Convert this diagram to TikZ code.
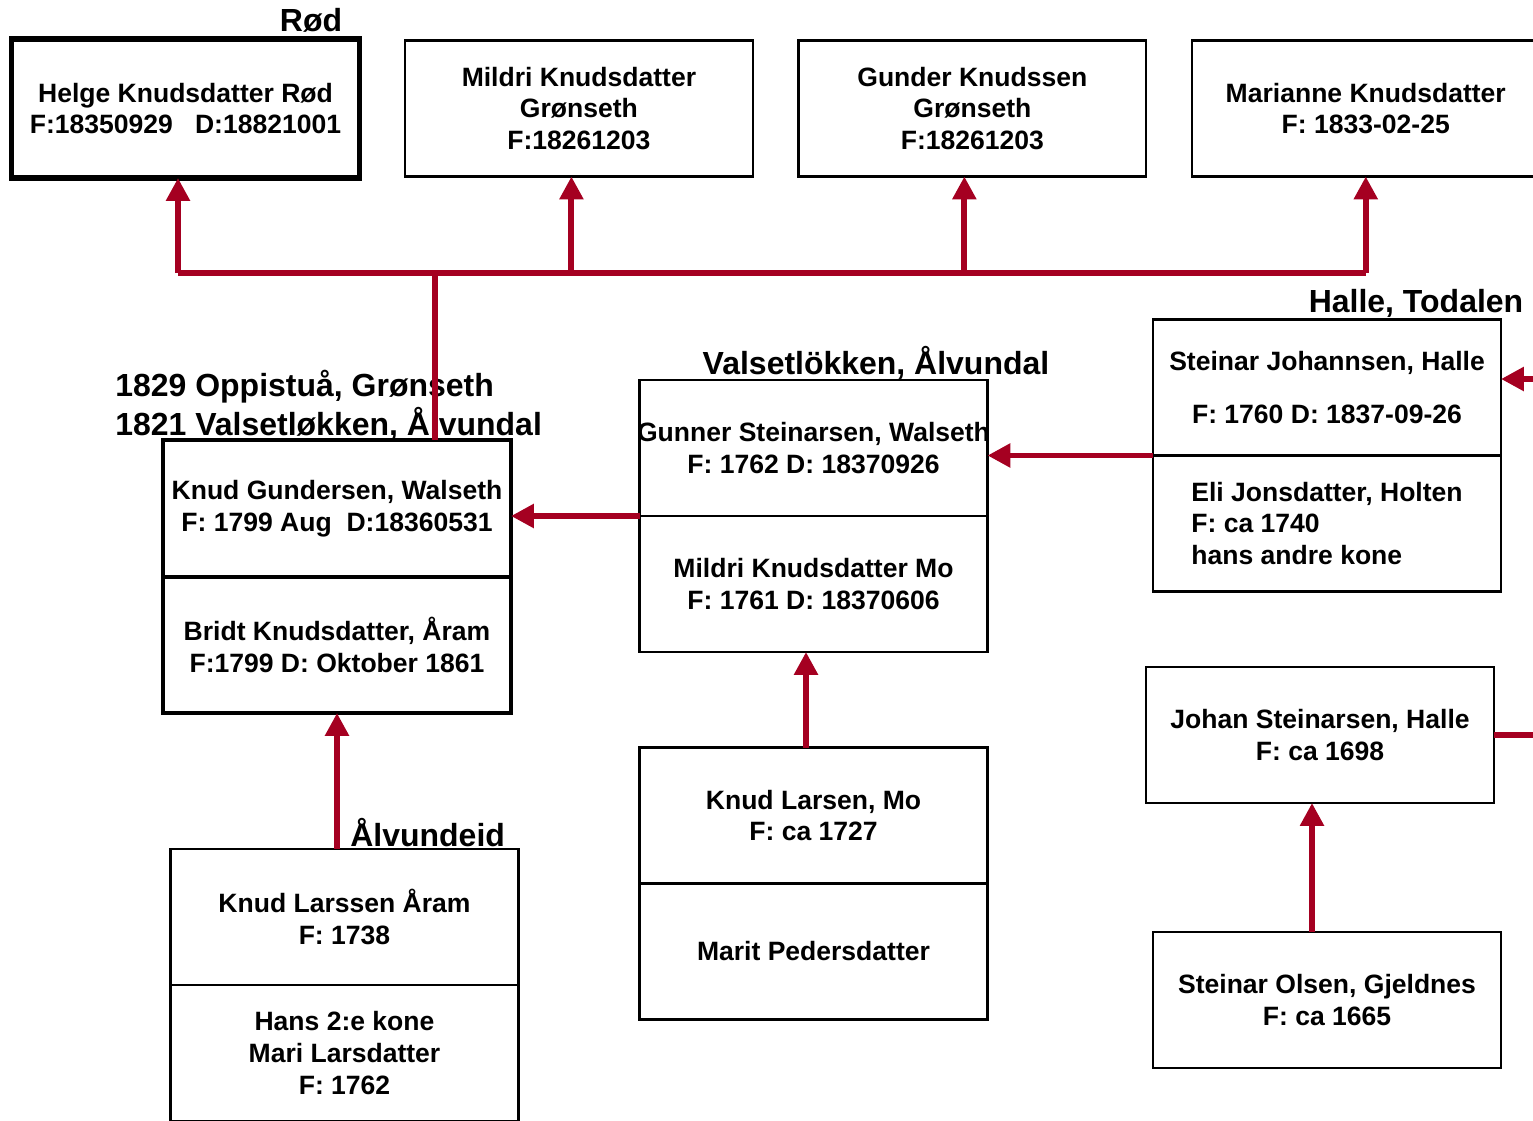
\documentclass[tikz,border=0pt]{standalone}
\usepackage{fontspec}
\setmainfont{Liberation Sans}
\usetikzlibrary{positioning,calc,arrows.meta}
\definecolor{linered}{HTML}{A50021}

\begin{document}
\begin{tikzpicture}[x=0.02cm, y=-0.02cm, node distance=0.91cm,
        box/.style={draw, rectangle, line width=1.3pt, minimum width=6.96cm, minimum height=2.72cm,
            inner xsep=0pt, outer sep=0pt, align=center, font=\fontsize{15.1}{18.1}\selectfont\bfseries},
        heavy/.style={box, line width=2pt},
        place/.style={inner sep=0pt, font=\fontsize{18.2}{22}\selectfont\bfseries},
        line/.style={draw=linered, line width=3.4pt},
        arr/.style={line, -{Triangle[width=13pt, length=13pt]}}
    ]
        \useasboundingbox (0,0) rectangle (1533,1120);

        % Children
        \node [box, line width=2.9pt, minimum height=2.78cm] (helge) at (185.5,108.5) {Helge Knudsdatter Rød\\F:18350929 \ \ D:18821001};
        \node [box, right=of helge] (mildri) {Mildri Knudsdatter\\Grønseth\\F:18261203};
        \node [box, right=of mildri] (gunder) {Gunder Knudssen\\Grønseth\\F:18261203};
        \node [box, right=of gunder] (marianne) {Marianne Knudsdatter\\F: 1833-02-25};
        \node [place, anchor=south] at (311,33) {Rød};

        % Parents
        \node [heavy, minimum height=2.74cm] (knud) at (337,508.5) {Knud Gundersen, Walseth\\F: 1799 Aug \ D:18360531};
        \node [heavy, below=0pt of knud] (bridt) {Bridt Knudsdatter, Åram\\F:1799 D: Oktober 1861};
        \node [place, anchor=west, align=left] at (115,405.5) {1829 Oppistuå, Grønseth\\1821 Valsetløkken, Ålvundal};

        % Grandparents
        \node [box] (gunner) at (813.5,448) {\makebox[6.9cm]{Gunner Steinarsen, Walseth}\\F: 1762 D: 18370926};
        \node [box, below=0pt of gunner] (mildrimo) {Mildri Knudsdatter Mo\\F: 1761 D: 18370606};
        \node [place] at (876,363) {Valsetlökken, Ålvundal};

        \node [box] (aram) at (344.5,917) {Knud Larssen Åram\\F: 1738};
        \node [box, below=0pt of aram] (mari) {Hans 2:e kone\\Mari Larsdatter\\F: 1762};
        \node [place, anchor=west] at (350,833) {Ålvundeid};

        \node [box] (larsen) at (813.5,815.5) {Knud Larsen, Mo\\F: ca 1727};
        \node [box, below=0pt of larsen] (marit) {Marit Pedersdatter};

        % Halle line
        \node [box] (steinar) at (1327,387.5) {Steinar Johannsen, Halle\\[12pt]F: 1760 D: 1837-09-26};
        \node [box, below=0pt of steinar, align=left] (eli) {Eli Jonsdatter, Holten\\F: ca 1740\\hans andre kone};
        \node [place] at (1416,303) {Halle, Todalen};

        \node [box] (johan) at (1320,735) {Johan Steinarsen, Halle\\F: ca 1698};
        \node [box] (olsen) at (1327,1000) {Steinar Olsen, Gjeldnes\\F: ca 1665};

        % Connectors
        \coordinate (fam) at (435,273);
        \coordinate (inR) at (1540,379);
        \coordinate (outR) at (1540,735);

        \draw [line] (knud.north -| fam) -- (fam);
        \draw [line] ([xshift=-0.15cm]helge.south |- fam) -- (marianne.south |- fam);
        \foreach \kid/\dx in {helge/-0.15, mildri/-0.15, gunder/-0.16, marianne/0}
            \draw [arr] ([xshift=\dx cm]\kid.south |- fam) -- ([xshift=\dx cm]\kid.south);

        \draw [arr] (gunner.south west) -- (gunner.south west -| knud.east);
        \draw [arr] (steinar.south west) -- (steinar.south west -| gunner.east);
        \draw [arr] (inR) -- (inR -| steinar.east);
        \draw [line] (johan.east) -- (outR);
        \draw [arr] ([xshift=-0.16cm]johan.south |- olsen.north) -- ([xshift=-0.16cm]johan.south);
        \draw [arr] ([xshift=-0.15cm]larsen.north) -- ([xshift=-0.15cm]mildrimo.south);
        \draw [arr] (aram.north -| bridt.south) -- (bridt.south);
    \end{tikzpicture}
\end{document}
